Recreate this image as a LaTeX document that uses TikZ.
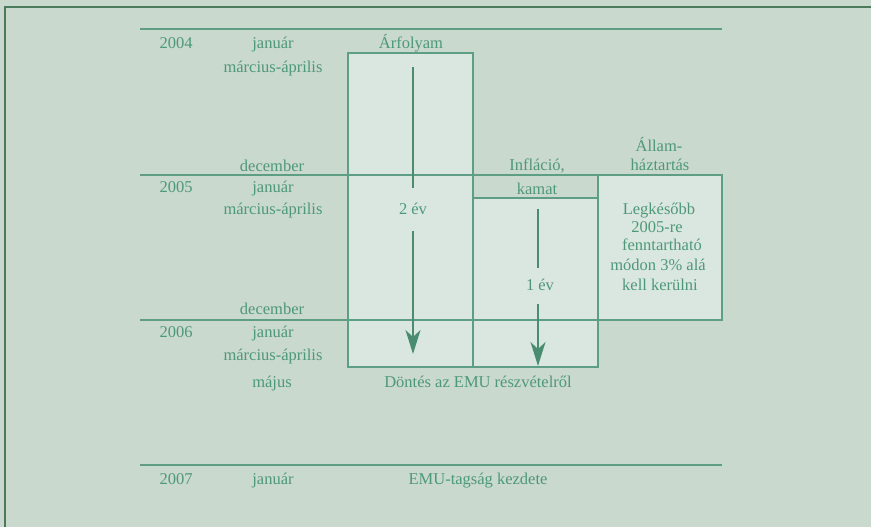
\documentclass[tikz,border=0pt]{standalone}
\usepackage{fontspec}
\setmainfont{Liberation Serif}
\usetikzlibrary{arrows.meta}
\definecolor{bg}{HTML}{C9D9CD}
\definecolor{boxfill}{HTML}{DAE7E0}
\definecolor{grline}{HTML}{5E9E84}
\definecolor{grtext}{HTML}{4E9878}
\definecolor{grarrow}{HTML}{4A8C70}
\definecolor{frame}{HTML}{4A7C5C}
\tikzset{
  txt/.style={text=grtext, font=\fontsize{16.5}{18}\selectfont, inner sep=0pt, anchor=base},
  rule/.style={draw=grline, line width=2pt},
  panel/.style={draw=grline, line width=2pt, fill=boxfill},
  flow/.style={draw=grarrow, line width=1.6pt},
  flowtip/.style={flow, -{Stealth[length=24pt, width=15pt, inset=7pt]}},
}
\begin{document}
\begin{tikzpicture}[x=1pt,y=-1pt]
\useasboundingbox (0,0) rectangle (871,527);
\fill[bg] (0,0) rectangle (871,527);
\draw[frame, line width=2pt] (871,7) -- (5,7) -- (5,527);

% boxes
\path[panel] (348,53) rectangle (473,367);
\path[panel] (473,198) rectangle (598,367);
\path[panel] (598,175) rectangle (722,320);
\draw[rule] (473,175) -- (473,198);

% horizontal rules
\draw[rule] (140,29) -- (722,29);
\draw[rule] (140,175) -- (722,175);
\draw[rule] (140,320) -- (722,320);
\draw[rule] (140,465) -- (722,465);

% years
\node[txt] (y2004) at (176,49) {2004};
\node[txt] (y2005) at (176,192) {2005};
\node[txt] (y2006) at (176,337) {2006};
\node[txt] (y2007) at (176,484) {2007};

% months
\node[txt] (m1) at (273,49) {január};
\node[txt] (m2) at (273,73) {március-április};
\node[txt] (m3) at (272,171) {december};
\node[txt] (m4) at (273,192) {január};
\node[txt] (m5) at (273,214) {március-április};
\node[txt] (m6) at (272,314) {december};
\node[txt] (m7) at (273,337) {január};
\node[txt] (m8) at (273,360) {március-április};
\node[txt] (m9) at (272,387) {május};
\node[txt] (m10) at (273,484) {január};

% headings
\node[txt] (arf) at (411,49) {Árfolyam};
\node[txt] (infl) at (537,170) {Infláció,};
\node[txt] (kamat) at (537,194) {kamat};
\node[txt] (allam1) at (659,151) {Állam-};
\node[txt] (allam2) at (660,170) {háztartás};

% inner texts
\node[txt] (ev2) at (413,214) {2 év};
\node[txt] (ev1) at (540,290) {1 év};
\node[txt] (l1) at (659,214) {Legkésőbb};
\node[txt] (l2) at (657,232) {2005-re};
\node[txt] (l3) at (662,250) {fenntartható};
\node[txt] (l4) at (658,270) {módon 3\% alá};
\node[txt] (l5) at (660,290) {kell kerülni};

\node[txt] (dontes) at (478,387) {Döntés az EMU részvételről};
\node[txt] (emu) at (478,484) {EMU-tagság kezdete};

% arrows
\coordinate (a1s) at (413,67);
\coordinate (a1m) at (413,188);
\coordinate (a1r) at (413,231);
\coordinate (a1e) at (413,354);
\coordinate (a2s) at (538,209);
\coordinate (a2m) at (538,268);
\coordinate (a2r) at (538,304);
\coordinate (a2e) at (538,366);
\draw[flow] (a1s) -- (a1m);
\draw[flowtip] (a1r) -- (a1e);
\draw[flow] (a2s) -- (a2m);
\draw[flowtip] (a2r) -- (a2e);
\end{tikzpicture}
\end{document}
